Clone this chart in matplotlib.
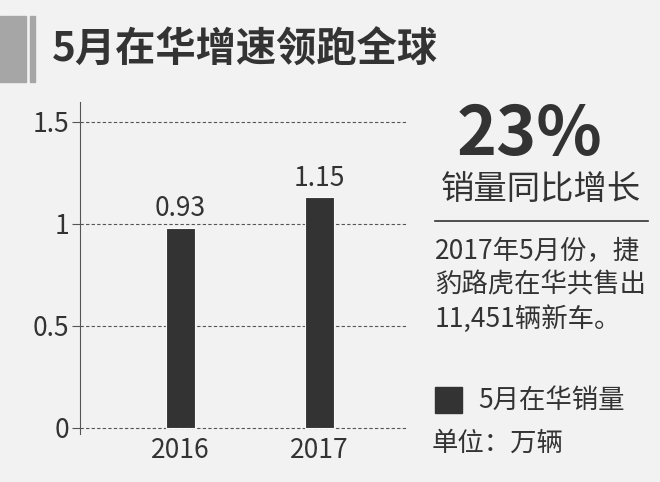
import matplotlib.pyplot as plt
from matplotlib.patches import Rectangle

plt.rcParams['font.family'] = ['Noto Sans CJK SC', 'DejaVu Sans']

# data
years = ['2016', '2017']
sales = [0.98, 1.13]          # bar heights as drawn
sales_labels = ['0.93', '1.15']
yticks = [0, 0.5, 1, 1.5]
ytick_labels = ['0', '0.5', '1', '1.5']

title = '5月在华增速领跑全球'
growth = '23%'
growth_text = '销量同比增长'
note_lines = ['2017年5月份，捷', '豹路虎在华共售出', '11,451辆新车。']
legend_text = '5月在华销量'
unit_text = '单位：万辆'

W, H = 660, 482
bg = '#f2f2f2'
dark = '#333333'


def fx(px):
    return px / W


def fy(py):
    return 1 - py / H


fig = plt.figure(figsize=(W / 100, H / 100), dpi=100, facecolor=bg)

# title bars
fig.patches.append(Rectangle((fx(0), fy(82)), fx(26), 66 / H, transform=fig.transFigure,
                             color='#a6a6a6', zorder=0))
fig.patches.append(Rectangle((fx(30), fy(82)), fx(5), 66 / H, transform=fig.transFigure,
                             color='#a6a6a6', zorder=0))
fig.text(fx(52), fy(50), title, fontsize=29, fontweight='bold', color=dark,
         ha='left', va='center')

# chart
ax = fig.add_axes([fx(80), (H - 434) / H, 327 / W, 332.4 / H], facecolor=bg)
x = list(range(len(years)))
bars = ax.bar(x, sales, width=0.21, color=dark, edgecolor='#f8f8f8', linewidth=0.8, zorder=3)
for xi, h, lab in zip(x, sales, sales_labels):
    ax.annotate(lab, (xi, h), xytext=(0, 4), textcoords='offset points',
                ha='center', va='bottom', fontsize=19, color=dark)

ax.set_xlim(-0.726, 1.635)
ax.set_ylim(-0.03, 1.6)
ax.set_yticks(yticks)
ax.set_yticklabels(ytick_labels)
ax.set_xticks(x)
ax.set_xticklabels(years)
ax.yaxis.grid(True, linestyle=(0, (3, 2)), color='#555555', linewidth=0.8)
ax.set_axisbelow(True)
for s in ['top', 'right', 'bottom']:
    ax.spines[s].set_visible(False)
ax.spines['left'].set_color('#555555')
ax.tick_params(axis='y', length=6, color='#555555', labelsize=19, labelcolor=dark, pad=2)
ax.tick_params(axis='x', length=0, labelsize=19, labelcolor=dark, pad=2)

# right panel
fig.text(fx(530), fy(135), growth, fontsize=49, fontweight='bold', color=dark,
         ha='center', va='center')
fig.text(fx(541), fy(190), growth_text, fontsize=24, color=dark, ha='center', va='center')
fig.add_artist(plt.Line2D([fx(435), fx(648)], [fy(221), fy(221)], color=dark, linewidth=1.2))
for i, line in enumerate(note_lines):
    fig.text(fx(435), fy(251 + 34 * i), line, fontsize=19, color=dark, ha='left', va='center')

fig.patches.append(Rectangle((fx(435), fy(413)), fx(27), 26 / H, transform=fig.transFigure,
                             color=dark))
fig.text(fx(478), fy(400), legend_text, fontsize=19, color=dark, ha='left', va='center')
fig.text(fx(432), fy(443), unit_text, fontsize=19, color=dark, ha='left', va='center')

fig.savefig('out.png', dpi=100, facecolor=bg)
